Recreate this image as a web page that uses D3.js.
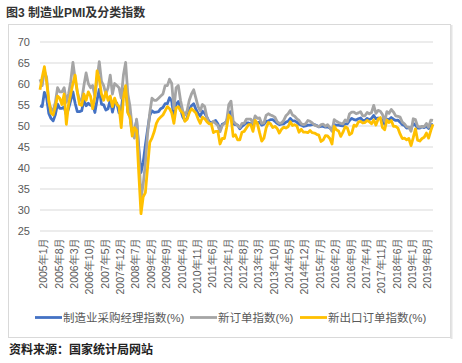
<!DOCTYPE html>
<html>
<head>
<meta charset="utf-8">
<script src="https://cdn.jsdelivr.net/npm/d3@7"></script>
<style>
    body { margin: 0; background: #fff; }
    svg { display: block; font-family: "Liberation Sans", Arial, "Noto Sans CJK SC", sans-serif; }
</style>
</head>
<body>
<div id="chart"></div>
<script>
// monthly data 2005-01 .. 2019-12
const startYear = 2005, endYear = 2019;

const pmi = [
    54.7, 54.5, 57.9, 56.7, 52.9, 51.7, 51.1, 52.6, 55.1, 54.1, 54.1, 54.4,
    52.5, 54.0, 56.0, 58.0, 55.3, 53.3, 53.3, 53.5, 56.0, 54.7, 55.3, 54.8,
    55.1, 53.1, 56.1, 58.6, 55.1, 54.9, 53.7, 54.0, 56.1, 53.2, 55.4, 55.3,
    53.0, 53.4, 58.4, 59.2, 53.3, 52.0, 48.4, 48.4, 51.2, 44.6, 38.8, 41.2,
    45.3, 49.0, 52.4, 53.5, 53.1, 53.2, 53.3, 54.0, 54.3, 55.2, 55.2, 56.6,
    55.8, 52.0, 55.1, 55.7, 53.9, 52.1, 51.2, 51.7, 53.8, 54.7, 55.2, 53.9,
    52.9, 52.2, 53.4, 52.9, 52.0, 50.9, 50.7, 50.9, 51.2, 50.4, 49.0, 50.3,
    50.5, 51.0, 53.1, 53.3, 50.4, 50.2, 50.1, 49.2, 49.8, 50.2, 50.6, 50.6,
    50.4, 50.1, 50.9, 50.6, 50.8, 50.1, 50.3, 51.0, 51.1, 51.4, 51.4, 51.0,
    50.5, 50.2, 50.3, 50.4, 50.8, 51.0, 51.7, 51.1, 51.1, 50.8, 50.3, 50.1,
    49.8, 49.9, 50.1, 50.1, 50.2, 50.2, 50.0, 49.7, 49.8, 49.8, 49.6, 49.7,
    49.4, 49.0, 50.2, 50.1, 50.1, 50.0, 49.9, 50.4, 50.4, 51.2, 51.7, 51.4,
    51.3, 51.6, 51.8, 51.2, 51.2, 51.7, 51.4, 51.7, 52.4, 51.6, 51.8, 51.6,
    51.3, 50.3, 51.5, 51.4, 51.9, 51.5, 51.2, 51.3, 50.8, 50.2, 50.0, 49.4,
    49.5, 49.2, 50.5, 50.1, 49.4, 49.4, 49.7, 49.5, 49.8, 49.3, 50.2, 50.2
];

const newOrders = [
    61.0, 59.5, 63.0, 61.5, 55.5, 54.0, 53.5, 55.5, 59.0, 58.0, 58.0, 59.0,
    55.5, 57.5, 60.5, 65.0, 61.0, 58.0, 56.0, 56.0, 59.5, 62.5, 60.0, 59.0,
    59.5, 57.0, 61.0, 65.2, 60.5, 59.5, 57.5, 59.0, 62.0, 57.5, 60.0, 59.5,
    59.0, 56.5, 62.0, 65.0, 57.5, 54.5, 49.5, 47.0, 51.5, 43.5, 32.7, 36.0,
    41.0, 48.0, 53.0, 56.5, 56.0, 56.0, 56.5, 57.0, 57.5, 59.5, 59.5, 61.0,
    60.0, 54.0, 59.0, 59.5, 56.0, 53.5, 52.5, 53.5, 56.0, 57.5, 58.5, 56.5,
    54.5, 53.5, 55.0, 54.5, 52.0, 50.5, 50.5, 51.0, 50.5, 50.0, 48.5, 50.0,
    50.5, 51.0, 55.0, 55.8, 51.0, 50.5, 50.0, 49.5, 50.5, 50.5, 51.5, 51.5,
    51.5, 50.5, 52.3, 51.7, 51.8, 50.5, 50.6, 52.4, 52.8, 52.5, 52.3, 52.0,
    50.9, 50.5, 50.6, 51.2, 52.3, 52.8, 53.6, 52.5, 52.2, 51.6, 51.2, 50.4,
    50.2, 50.4, 51.2, 51.0, 50.6, 50.1, 49.9, 49.7, 50.2, 50.3, 49.8, 50.2,
    49.5, 48.6, 51.4, 51.0, 50.7, 50.5, 50.4, 51.3, 50.9, 52.8, 53.2, 53.2,
    52.8, 53.0, 53.3, 52.3, 52.3, 53.1, 52.8, 53.1, 54.8, 52.9, 53.6, 53.4,
    52.6, 51.0, 53.3, 52.9, 53.8, 53.2, 52.3, 52.2, 52.0, 50.8, 50.4, 49.7,
    49.6, 48.6, 51.6, 51.4, 49.8, 49.6, 49.8, 49.7, 50.5, 49.6, 51.3, 51.2
];

const newExportOrders = [
    58.5, 61.5, 64.0, 60.5, 56.0, 53.0, 52.5, 54.5, 57.0, 56.5, 55.0, 57.5,
    50.3, 55.0, 57.5, 60.0, 62.0, 58.0, 55.0, 54.8, 57.5, 56.0, 58.0, 57.0,
    54.0, 57.0, 63.0, 61.0, 57.5, 56.0, 58.0, 56.0, 57.0, 54.5, 56.5, 55.0,
    54.5, 49.5, 56.5, 59.5, 53.0, 52.0, 47.5, 49.5, 48.8, 38.5, 29.0, 33.0,
    34.0, 40.0, 46.0, 47.0, 48.5, 50.5, 51.5, 52.0, 52.5, 53.5, 54.5, 54.0,
    53.0, 50.5, 54.2, 54.5, 53.5, 53.0, 51.0, 51.5, 53.0, 54.0, 53.5, 53.0,
    51.6, 50.5, 52.0, 51.6, 50.9, 50.4, 50.4, 48.3, 48.6, 48.6, 45.6, 46.9,
    46.9, 49.5, 52.5, 51.8, 47.4, 47.8, 46.6, 46.6, 48.4, 48.6, 49.4, 50.2,
    50.2, 48.6, 51.2, 50.5, 48.3, 46.3, 47.0, 49.4, 50.7, 50.4, 49.5, 49.8,
    49.3, 48.2, 49.1, 49.6, 49.4, 49.7, 50.9, 50.0, 50.2, 49.9, 48.4, 49.1,
    48.4, 48.4, 48.3, 48.8, 48.3, 48.2, 47.9, 47.7, 46.2, 46.6, 47.6, 47.5,
    46.9, 45.6, 49.8, 49.0, 48.7, 47.4, 48.4, 49.7, 49.4, 47.8, 48.2, 50.1,
    49.8, 50.8, 51.0, 50.6, 50.7, 51.2, 50.9, 50.4, 51.3, 50.1, 51.5, 51.9,
    49.5, 49.0, 51.3, 50.7, 51.2, 49.8, 49.8, 49.4, 48.0, 46.9, 47.0, 46.6,
    46.9, 45.2, 47.1, 49.2, 46.5, 46.3, 46.9, 47.2, 48.2, 47.0, 48.8, 50.3
];

const tickLabels = [
    "2005年1月", "2005年8月", "2006年3月", "2006年10月", "2007年5月", "2007年12月",
    "2008年7月", "2009年2月", "2009年9月", "2010年4月", "2010年11月", "2011年6月",
    "2012年1月", "2012年8月", "2013年3月", "2013年10月", "2014年5月", "2014年12月",
    "2015年7月", "2016年2月", "2016年9月", "2017年4月", "2017年11月", "2018年6月",
    "2019年1月", "2019年8月"
];

const yTicks = [25, 30, 35, 40, 45, 50, 55, 60, 65, 70];

const seriesNames = ["制造业采购经理指数(%)", "新订单指数(%)", "新出口订单指数(%)"];
const seriesColors = ["#4472c4", "#a5a5a5", "#ffc000"];

// category names: one per month
const months = [];
for (let y = startYear; y <= endYear; y++) {
    for (let m = 1; m <= 12; m++) months.push(y + "年" + m + "月");
}

let width = 462, height = 363;
const margin = {top: 41.5, right: 29, bottom: 132.5, left: 40};
const innerwidth = width - margin.left - margin.right;
const innerheight = height - margin.top - margin.bottom;

const svg = d3.select('#chart')
    .append('svg')
    .attr('width', width)
    .attr('height', height);

// title
svg.append('text')
    .attr('x', 6)
    .attr('y', 17)
    .attr('font-size', 12)
    .attr('font-weight', 'bold')
    .attr('fill', '#333')
    .text('图3 制造业PMI及分类指数');

// chart box
svg.append('rect')
    .attr('x', 8.5)
    .attr('y', 24.5)
    .attr('width', 442)
    .attr('height', 313)
    .attr('fill', 'none')
    .attr('stroke', '#d9d9d9');
svg.append('line')
    .attr('x1', 451.5).attr('x2', 451.5)
    .attr('y1', 25).attr('y2', 339)
    .attr('stroke', '#e4e4e4')
    .attr('stroke-width', 2);

const g = svg.append('g')
    .attr('transform', "translate(" + margin.left + "," + margin.top + ")");

const xscale = d3.scalePoint()
    .domain(months)
    .range([0, innerwidth]);

const yscale = d3.scaleLinear()
    .domain([25, 70])
    .range([innerheight, 0]);

// y axis with gridlines
const yaxisG = g.append('g')
    .call(d3.axisLeft(yscale).tickValues(yTicks).tickSize(-innerwidth).tickPadding(10));
yaxisG.select('.domain').remove();
yaxisG.selectAll('.tick line')
    .attr('stroke', '#d9d9d9');
yaxisG.selectAll('.tick text')
    .attr('fill', '#595959')
    .attr('font-size', 11)
    .attr('font-family', '"Liberation Sans", Arial, sans-serif');

// x axis labels, rotated
const xaxisG = g.append('g')
    .attr('transform', "translate(0," + innerheight + ")")
    .call(d3.axisBottom(xscale).tickValues(tickLabels).tickSize(0));
xaxisG.select('.domain').remove();
xaxisG.selectAll('.tick text')
    .attr('fill', '#595959')
    .attr('font-size', 10.5)
    .attr('text-anchor', 'end')
    .attr('dy', '0.35em')
    .attr('transform', 'translate(0,7) rotate(-90)');

// lines
const allSeries = [pmi, newOrders, newExportOrders];
const line = d3.line()
    .x((d, i) => xscale(months[i]))
    .y(d => yscale(d));

g.selectAll('.series')
    .data(allSeries)
    .enter()
    .append('path')
    .attr('class', 'series')
    .attr('d', d => line(d))
    .attr('fill', 'none')
    .attr('stroke', (d, i) => seriesColors[i])
    .attr('stroke-width', 2.8)
    .attr('stroke-linejoin', 'round');

// legend
const legendX = [35, 190, 300];
const legend = svg.append('g').attr('transform', 'translate(0,317.5)');
seriesNames.forEach((name, i) => {
    legend.append('line')
        .attr('x1', legendX[i]).attr('x2', legendX[i] + 27)
        .attr('y1', 0).attr('y2', 0)
        .attr('stroke', seriesColors[i])
        .attr('stroke-width', 2.8);
    legend.append('text')
        .attr('x', legendX[i] + 28)
        .attr('y', 0)
        .attr('dy', '0.36em')
        .attr('font-size', 11.5)
        .attr('fill', '#595959')
        .text(name);
});

// source
svg.append('text')
    .attr('x', 9)
    .attr('y', 354)
    .attr('font-size', 12)
    .attr('font-weight', 'bold')
    .attr('font-family', '"Noto Sans CJK SC", sans-serif')
    .attr('fill', '#222')
    .text('资料来源：国家统计局网站');
</script>
</body>
</html>
